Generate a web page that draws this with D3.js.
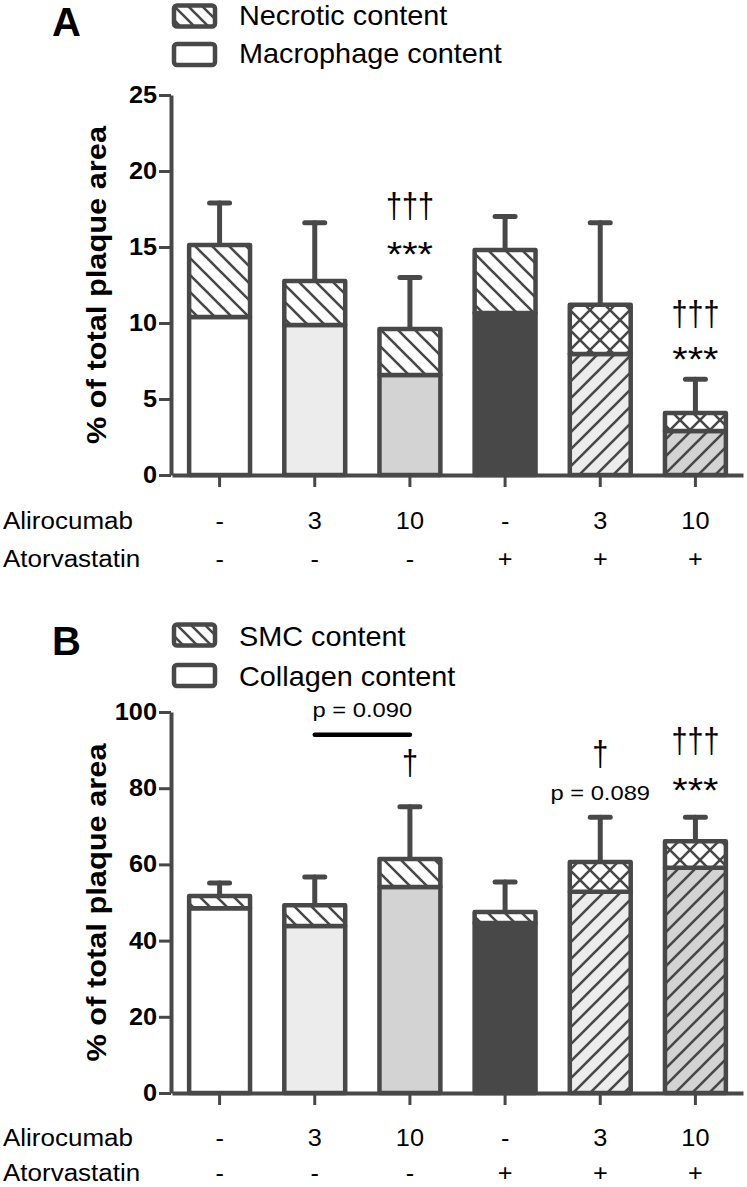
<!DOCTYPE html>
<html><head><meta charset="utf-8">
<script src="https://cdn.jsdelivr.net/npm/d3@7"></script>
<style>
body{margin:0;background:#fff}
svg{display:block}
text{font-family:"Liberation Sans",Arial,sans-serif;fill:#000}
</style>
</head><body>
<svg id="chart" width="747" height="1187"></svg>
<script>
// ---------- data ----------
const groups = ["G1","G2","G3","G4","G5","G6"];
const alirocumabDose = ["-","3","10","-","3","10"];
const atorvastatinDose = ["-","-","-","+","+","+"];

// Panel A
const macrophageContent = [10.4, 9.87, 6.58, 10.66, 7.96, 2.9];
const necroticContent   = [4.73, 2.89, 3.02, 4.14, 3.24, 1.18];
const necroticSD        = [2.77, 3.84, 3.4, 2.2, 5.4, 2.22];
const ticksA = [0, 5, 10, 15, 20, 25];

// Panel B
const collagenContent = [48.5, 43.8, 54.1, 44.6, 52.8, 59.1];
const smcContent      = [3.2, 5.5, 7.3, 2.9, 7.8, 7.0];
const smcSD           = [3.4, 7.4, 13.7, 7.9, 11.8, 6.3];
const ticksB = [0, 20, 40, 60, 80, 100];

// significance marks (value = baseline position in data units)
const annotA = [
  {g:2, t:"†††", v:16.9, k:"dag"}, {g:2, t:"***", v:13.75, k:"ast"},
  {g:5, t:"†††", v:9.8,  k:"dag"}, {g:5, t:"***", v:6.84,  k:"ast"}
];
const annotB = [
  {g:2, t:"†", v:83.4, k:"dag"},
  {g:4, t:"†", v:85.8, k:"dag"}, {g:4, t:"p = 0.089", v:76.9, k:"p"},
  {g:5, t:"†††", v:89.2, k:"dag"}, {g:5, t:"***", v:76.5, k:"ast"}
];
const bracketB = {from:1, to:2, v:94.0, label:"p = 0.090", labelV:98.8};

// fills per group
const lowerFill = ["white","light","mid","dark","lightHatch","midHatch"];
const upperFill = ["back","back","back","back","cross","cross"];

// ---------- styling ----------
const INK = "#484848";
const COL = {white:"#ffffff", light:"#ececec", mid:"#d3d3d3", dark:INK};
const SX = 1.1; // horizontal text stretch seen in the figure

const svg = d3.select("#chart");
const defs = svg.append("defs");

function pattern(id, bg, dirs, s, sw){
  const p = defs.append("pattern").attr("id", id)
    .attr("patternUnits","userSpaceOnUse").attr("width", s).attr("height", s);
  p.append("rect").attr("width", s).attr("height", s).attr("fill", bg);
  dirs.forEach(d => {
    const path = d === "back"
      ? `M0,0L${s},${s}M${-s/2},${s/2}L${s/2},${s*1.5}M${s/2},${-s/2}L${s*1.5},${s/2}`
      : `M0,${s}L${s},0M${-s/2},${s/2}L${s/2},${-s/2}M${s/2},${s*1.5}L${s*1.5},${s/2}`;
    p.append("path").attr("d", path).attr("stroke", INK).attr("stroke-width", sw).attr("fill","none");
  });
}
pattern("p-back", "#fff", ["back"], 17, 2.6);
pattern("p-cross", "#fff", ["back","fwd"], 20, 2.6);
pattern("p-lightHatch", COL.light, ["fwd"], 17, 2.6);
pattern("p-midHatch", COL.mid, ["fwd"], 17, 2.6);
pattern("p-legend", "#fff", ["back"], 14, 2.6);

function fillOf(k){
  if (COL[k]) return COL[k];
  return `url(#p-${k})`;
}

function stext(g, x, y, str, size, opts={}){
  return g.append("text")
    .attr("transform", `translate(${x},${y}) scale(${opts.sx||SX},1)`)
    .attr("text-anchor", opts.anchor || "middle")
    .attr("font-size", size)
    .attr("font-weight", opts.bold ? "bold" : "normal")
    .text(str);
}

const x = d3.scaleBand().domain(groups).range([172, 743]).paddingInner(0.36).paddingOuter(0.18);

function drawPanel(cfg){
  const g = svg.append("g");
  const y = d3.scaleLinear().domain([0, cfg.max]).range([cfg.y0, cfg.y1]);

  // panel letter
  g.append("text").attr("x", 52).attr("y", cfg.letterY).attr("font-size", 40)
    .attr("font-weight","bold").text(cfg.letter);

  // legend
  cfg.legend.forEach((L, i) => {
    g.append("rect").attr("x", 174).attr("y", L.boxY).attr("width", 41).attr("height", 21)
      .attr("rx", 3).attr("fill", L.fill).attr("stroke", INK).attr("stroke-width", 4.5);
    stext(g, 239, L.textY, L.label, 28, {anchor:"start", sx:1.03});
  });

  // y axis
  const ya = g.append("g").attr("transform", `translate(171,0)`)
    .call(d3.axisLeft(y).tickValues(cfg.ticks).tickSize(12).tickSizeOuter(0).tickFormat(d3.format("d")));
  ya.select(".domain").attr("stroke", INK).attr("stroke-width", 4);
  ya.selectAll(".tick line").attr("stroke", INK).attr("stroke-width", 3);
  ya.selectAll(".tick text").remove();
  cfg.ticks.forEach(t => {
    stext(g, 157, y(t) + 8, String(t), 23, {anchor:"end", bold:true});
  });

  // y label
  g.append("text")
    .attr("transform", `translate(106,${(cfg.y0 + cfg.y1)/2}) rotate(-90) scale(1.1,1)`)
    .attr("text-anchor","middle").attr("font-size", 28).attr("font-weight","bold")
    .text("% of total plaque area");

  // error bars
  groups.forEach((gr, i) => {
    const cx = x(gr) + x.bandwidth()/2;
    const top = cfg.lower[i] + cfg.upper[i];
    const e = top + cfg.sd[i];
    g.append("line").attr("x1", cx).attr("x2", cx).attr("y1", y(top)).attr("y2", y(e))
      .attr("stroke", INK).attr("stroke-width", 5).attr("stroke-linecap","round");
    g.append("line").attr("x1", cx - 10).attr("x2", cx + 10).attr("y1", y(e)).attr("y2", y(e))
      .attr("stroke", INK).attr("stroke-width", 5).attr("stroke-linecap","round");
  });

  // stacked bars
  groups.forEach((gr, i) => {
    const bx = x(gr), bw = x.bandwidth();
    const lo = cfg.lower[i], up = cfg.upper[i];
    g.append("rect").attr("x", bx).attr("width", bw)
      .attr("y", y(lo)).attr("height", y(0) - y(lo))
      .attr("fill", fillOf(lowerFill[i])).attr("stroke", INK).attr("stroke-width", 4.5)
      .attr("stroke-linejoin","round");
    g.append("rect").attr("x", bx).attr("width", bw)
      .attr("y", y(lo + up)).attr("height", y(lo) - y(lo + up))
      .attr("fill", fillOf(upperFill[i])).attr("stroke", INK).attr("stroke-width", 4.5)
      .attr("stroke-linejoin","round");
  });

  // x axis
  const xa = g.append("g").attr("transform", `translate(0,${cfg.y0})`)
    .call(d3.axisBottom(x).tickSize(12).tickSizeOuter(0).tickFormat(""));
  xa.select(".domain").attr("stroke", INK).attr("stroke-width", 4);
  xa.selectAll(".tick line").attr("stroke", INK).attr("stroke-width", 3);

  // category rows
  stext(g, 3, cfg.row1, "Alirocumab", 23, {anchor:"start", sx:1.13});
  stext(g, 3, cfg.row2, "Atorvastatin", 23, {anchor:"start", sx:1.13});
  groups.forEach((gr, i) => {
    const cx = x(gr) + x.bandwidth()/2;
    stext(g, cx, cfg.row1, alirocumabDose[i], 23);
    stext(g, cx, cfg.row2, atorvastatinDose[i], 23);
  });

  // annotations
  cfg.annot.forEach(a => {
    const cx = x(groups[a.g]) + x.bandwidth()/2;
    const size = a.k === "dag" ? 36 : a.k === "ast" ? 36 : 21;
    const sx = a.k === "dag" ? 0.8 : a.k === "p" ? 1.13 : SX;
    stext(g, cx, y(a.v), a.t, size, {sx});
  });
  if (cfg.bracket){
    const b = cfg.bracket;
    const x1 = x(groups[b.from]) + x.bandwidth()/2;
    const x2 = x(groups[b.to]) + x.bandwidth()/2;
    g.append("line").attr("x1", x1).attr("x2", x2).attr("y1", y(b.v)).attr("y2", y(b.v))
      .attr("stroke", "#000").attr("stroke-width", 4.5).attr("stroke-linecap","round");
    stext(g, (x1 + x2)/2, y(b.labelV), b.label, 21, {sx:1.13});
  }
}

drawPanel({
  letter:"A", letterY:36, max:25, y0:475, y1:95, ticks:ticksA,
  lower:macrophageContent, upper:necroticContent, sd:necroticSD,
  legend:[
    {boxY:5.5, textY:25, label:"Necrotic content", fill:"url(#p-legend)"},
    {boxY:44, textY:63, label:"Macrophage content", fill:"#fff"}
  ],
  row1:529, row2:567, annot:annotA
});

drawPanel({
  letter:"B", letterY:655, max:100, y0:1093, y1:712, ticks:ticksB,
  lower:collagenContent, upper:smcContent, sd:smcSD,
  legend:[
    {boxY:624.5, textY:646, label:"SMC content", fill:"url(#p-legend)"},
    {boxY:665, textY:686, label:"Collagen content", fill:"#fff"}
  ],
  row1:1146, row2:1181, annot:annotB, bracket:bracketB
});
</script>
</body></html>
